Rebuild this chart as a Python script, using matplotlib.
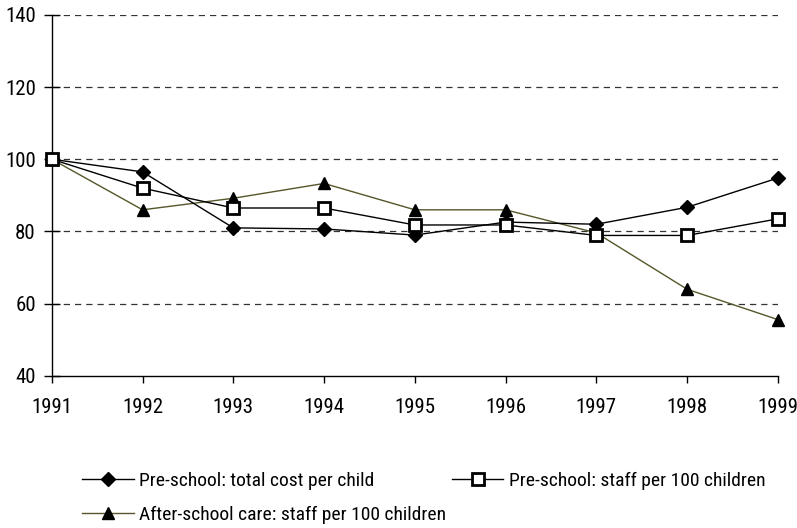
import matplotlib
matplotlib.use('Agg')
import matplotlib.pyplot as plt

plt.rcParams['font.family'] = ['Roboto Condensed', 'Archivo Narrow', 'DejaVu Sans']

years = [1991, 1992, 1993, 1994, 1995, 1996, 1997, 1998, 1999]
cost_per_child = [100, 96.5, 81.0, 80.7, 79.0, 82.6, 82.0, 86.7, 94.8]
preschool_staff = [100, 92.0, 86.5, 86.5, 81.8, 81.8, 78.9, 78.9, 83.5]
afterschool_staff = [100, 86.0, 89.2, 93.3, 86.0, 86.0, 79.6, 64.0, 55.6]

OLIVE = '#56562a'

fig = plt.figure(figsize=(7.97, 5.28), dpi=100)
ax = fig.add_axes([0.065, 0.288, 0.911, 0.684])

l1, = ax.plot(years, cost_per_child, color='black', lw=1, marker='D',
              ms=7, mfc='black', mec='black', zorder=4, clip_on=False)
l2, = ax.plot(years, preschool_staff, color='black', lw=1, marker='s',
              ms=8, mfc='white', mec='black', mew=2, zorder=5, clip_on=False)
l3, = ax.plot(years, afterschool_staff, color=OLIVE, lw=1, marker='^',
              ms=9, mfc='black', mec='black', zorder=3, clip_on=False)

ax.set_xlim(1991, 1999)
ax.set_ylim(40, 140)
ax.set_yticks(range(40, 141, 20))
ax.set_xticks(years)
for y in range(60, 141, 20):
    ax.axhline(y, color='#333333', ls=(0, (5, 4)), lw=0.9, zorder=1)

for s in ('top', 'right'):
    ax.spines[s].set_visible(False)
for s in ('left', 'bottom'):
    ax.spines[s].set_linewidth(1)
ax.tick_params(axis='both', width=1, labelsize=15, colors='black')
ax.tick_params(axis='x', direction='out', length=5, pad=11)
ax.tick_params(axis='y', direction='inout', length=11, pad=6)

kw = dict(frameon=False, fontsize=14, handlelength=2.65, handletextpad=0.3,
          borderpad=0, borderaxespad=0)
fig.legend([l1], ['Pre-school: total cost per child'],
           loc='center left', bbox_to_anchor=(0.103, 0.089), **kw)
fig.legend([l2], ['Pre-school: staff per 100 children'],
           loc='center left', bbox_to_anchor=(0.567, 0.089), **kw)
fig.legend([l3], ['After-school care: staff per 100 children'],
           loc='center left', bbox_to_anchor=(0.103, 0.025), **kw)

fig.savefig('out.png', dpi=100)
